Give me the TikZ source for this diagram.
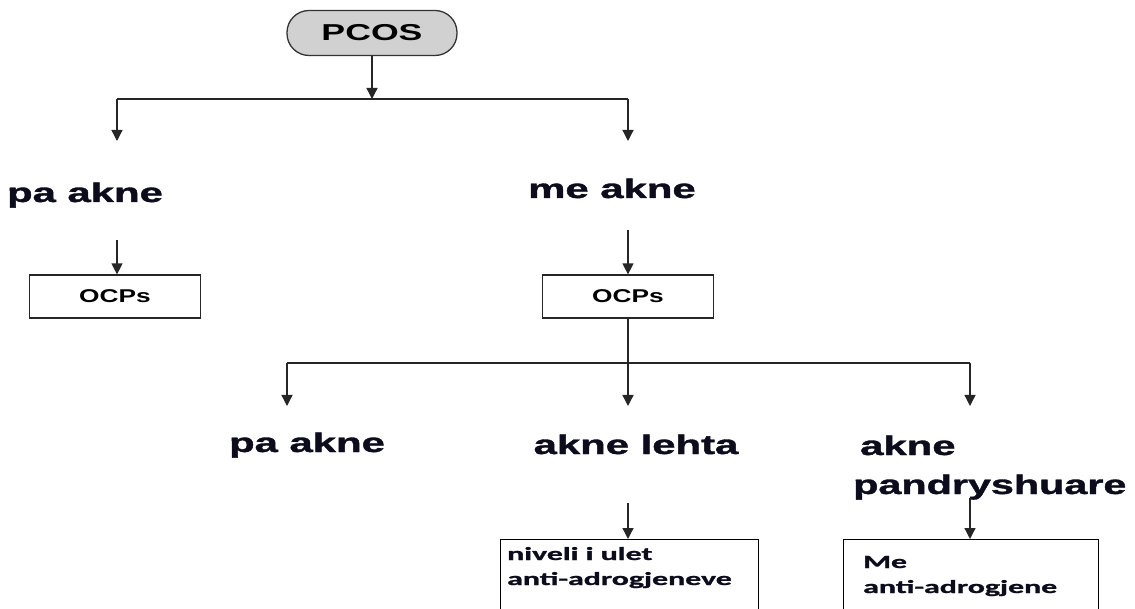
\documentclass[tikz,border=0pt]{standalone}
\usepackage{fontspec}
\setmainfont{Liberation Sans}
\newfontfamily\hf[FakeBold=1.2]{Liberation Sans Bold}
\newfontfamily\calfont[FakeBold=1]{Carlito Bold}
\usetikzlibrary{arrows.meta}
\definecolor{inkc}{RGB}{12,12,28}
\newcommand\wtxt[2][1.58]{\scalebox{#1}[1]{#2}}
\begin{document}
\begin{tikzpicture}[x=1pt,y=-1pt,
  line/.style={draw=black!85,line width=1.3pt},
  arr/.style={line,-{Triangle[width=11pt,length=11pt]}},
  head/.style={inner sep=0pt,font=\hf\fontsize{27}{30}\selectfont,text=inkc},
  ocp/.style={draw=black!85,line width=1.2pt,minimum width=171pt,minimum height=43pt,inner sep=0pt,font=\bfseries\fontsize{18.5}{21}\selectfont},
  lowbox/.style={draw=black,line width=1.2pt,minimum height=120pt,inner sep=0pt,anchor=north west},
  boxtxt/.style={inner sep=0pt,anchor=base west,font=\calfont\fontsize{18.5}{25}\selectfont,text=inkc}]
\useasboundingbox (0,0) rectangle (1135,609);
\clip (0,0) rectangle (1135,609);
% top
\node[draw=black!80,line width=1.3pt,fill=black!18,rounded corners=22pt,minimum width=170pt,minimum height=45pt,inner sep=0pt,font=\bfseries\fontsize{23}{26}\selectfont] (pcos) at (372,33) {\wtxt[1.55]{PCOS}};
\coordinate (j1) at (372,99);
\coordinate (j1l) at (117,99);
\coordinate (j1r) at (628,99);
\coordinate (t1l) at (117,141);
\coordinate (t1r) at (628,141);
\draw[arr] (pcos.south) -- (j1);
\draw[line] (j1l) -- (j1r);
\draw[arr] (j1l) -- (t1l);
\draw[arr] (j1r) -- (t1r);
% level 2
\node[head,anchor=base] (pa1) at (85,202) {\wtxt[1.55]{pa akne}};
\node[head,anchor=base] (me1) at (612,198) {\wtxt[1.55]{me akne}};
\node[ocp] (ocpl) at (115,296.5) {\wtxt[1.42]{OCPs}};
\node[ocp] (ocpr) at (628,296.5) {\wtxt[1.42]{OCPs}};
\coordinate (s2l) at (117,240);
\coordinate (s2r) at (628,230);
\draw[arr] (s2l) -- (s2l |- ocpl.north);
\draw[arr] (s2r) -- (ocpr.north);
% level 3
\coordinate (j2) at (628,363);
\coordinate (j2l) at (287,363);
\coordinate (j2r) at (970,363);
\coordinate (t2l) at (287,406);
\coordinate (t2m) at (628,406);
\coordinate (t2r) at (970,406);
\draw[line] (ocpr.south) -- (j2);
\draw[line] (j2l) -- (j2r);
\draw[arr] (j2l) -- (t2l);
\draw[arr] (j2) -- (t2m);
\draw[arr] (j2r) -- (t2r);
\node[head,anchor=base] (pa2) at (307,452) {\wtxt[1.55]{pa akne}};
\node[head,anchor=base] (lehta) at (636,454) {\wtxt[1.55]{akne lehta}};
\node[head,anchor=base west] (akne3) at (860,455) {\wtxt[1.55]{akne}};
\node[head,anchor=base west] (pandr) at (853,494) {\wtxt[1.53]{pandryshuare}};
% bottom boxes
\node[lowbox,minimum width=258pt] (b1) at (500,539) {};
\node[lowbox,minimum width=255pt] (b2) at (843,539) {};
\coordinate (s3m) at (628,503);
\coordinate (s3r) at (970,498);
\draw[arr] (s3m) -- (s3m |- b1.north);
\draw[arr] (s3r) -- (s3r |- b2.north);
\node[boxtxt] (b1t) at (507,560) {\wtxt[1.72]{\begin{tabular}[t]{@{}l@{}}niveli i ulet\\anti-adrogjeneve\end{tabular}}};
\node[boxtxt] (b2t) at (863,568) {\wtxt[1.72]{\begin{tabular}[t]{@{}l@{}}Me\\anti-adrogjene\end{tabular}}};
\end{tikzpicture}
\end{document}
